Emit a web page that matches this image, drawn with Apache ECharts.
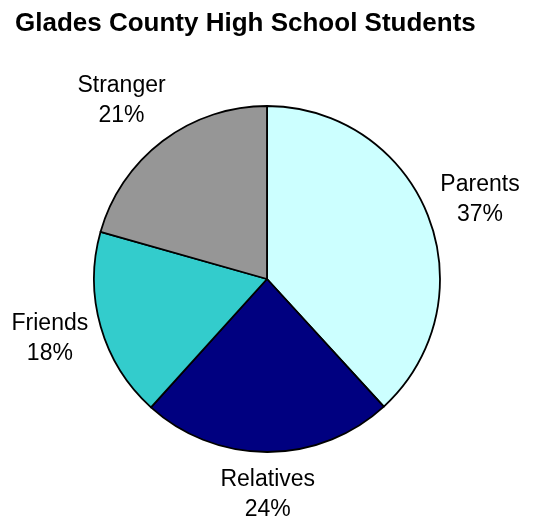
<!DOCTYPE html>
<html>
<head>
<meta charset="utf-8">
<script src="https://cdn.jsdelivr.net/npm/echarts@6/dist/echarts.min.js"></script>
<style>
  html, body { margin: 0; padding: 0; background: #fff; }
  #chart { width: 533px; height: 521px; }
</style>
</head>
<body>
<div id="chart"></div>
<script>
// ---- data ----
const categories = ['Parents', 'Relatives', 'Friends', 'Stranger'];
const values = [38.2, 23.5, 17.7, 20.6];          // slice sizes
const percentLabels = ['37%', '24%', '18%', '21%']; // percentages as printed on the chart
const sliceColors = ['#CCFFFF', '#000080', '#33CCCC', '#969696'];
const titleText = 'Glades County High School Students';

// ---- layout ----
const CENTER = [267, 279];
const RADIUS = 173;
const LABEL_GAP = 13;
const FONT = 'Arial, "Liberation Sans", sans-serif';

const chart = echarts.init(document.getElementById('chart'), null, { renderer: 'canvas' });

// fallback mid-angle directions if label line points are unavailable
const total = values.reduce((a, b) => a + b, 0);
const midDirs = [];
(function () {
  let acc = 0;
  values.forEach(v => {
    const midDeg = 90 - (acc + v / 2) / total * 360;
    const rad = midDeg * Math.PI / 180;
    midDirs.push([Math.cos(rad), -Math.sin(rad)]);
    acc += v;
  });
})();

const option = {
  backgroundColor: '#ffffff',
  animation: false,
  title: {
    text: titleText,
    left: 15,
    top: 9,
    padding: 0,
    textStyle: { fontFamily: FONT, fontSize: 26, fontWeight: 'bold', color: '#000', lineHeight: 30 }
  },
  series: [{
    type: 'pie',
    center: CENTER,
    radius: RADIUS,
    startAngle: 90,
    clockwise: true,
    avoidLabelOverlap: false,
    data: categories.map((name, i) => ({
      name: name,
      value: values[i],
      itemStyle: { color: sliceColors[i] }
    })),
    itemStyle: { borderColor: '#000', borderWidth: 1.8 },
    emphasis: { disabled: true },
    label: {
      show: true,
      position: 'outside',
      formatter: p => p.name + '\n' + percentLabels[p.dataIndex],
      fontFamily: FONT,
      fontSize: 23,
      lineHeight: 30,
      color: '#000'
    },
    labelLine: { show: true, length: LABEL_GAP, length2: 0, lineStyle: { opacity: 0 } },
    labelLayout: function (params) {
      const i = params.dataIndex;
      let dir, anchor;
      const pts = params.labelLinePoints;
      if (pts && pts.length >= 2) {
        const dx = pts[1][0] - pts[0][0], dy = pts[1][1] - pts[0][1];
        const len = Math.sqrt(dx * dx + dy * dy) || 1;
        dir = [dx / len, dy / len];
        anchor = [pts[1][0], pts[1][1]];
      } else {
        dir = midDirs[i];
        anchor = [CENTER[0] + dir[0] * (RADIUS + LABEL_GAP), CENTER[1] + dir[1] * (RADIUS + LABEL_GAP)];
      }
      const hw = params.labelRect.width / 2, hh = params.labelRect.height / 2;
      const m = Math.max(Math.abs(dir[0]), Math.abs(dir[1]));
      return {
        x: anchor[0] + dir[0] / m * hw,
        y: anchor[1] + dir[1] / m * hh,
        align: 'center',
        verticalAlign: 'middle'
      };
    }
  }]
};

chart.setOption(option);
</script>
</body>
</html>
